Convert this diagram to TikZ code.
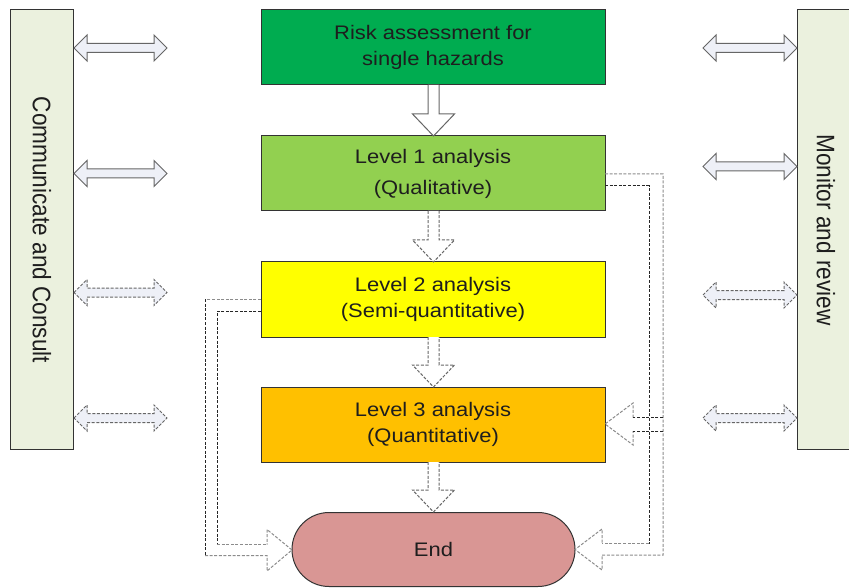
\documentclass[tikz,border=0pt]{standalone}
\usepackage{fontspec}
\setmainfont{Liberation Sans}[FakeStretch=1.12]
\newfontfamily\sidefont{Liberation Sans}
\definecolor{topgreen}{RGB}{0,172,80}
\definecolor{lgreen}{RGB}{146,208,80}
\definecolor{lyellow}{RGB}{255,255,0}
\definecolor{lorange}{RGB}{255,192,0}
\definecolor{endpink}{RGB}{217,150,148}
\definecolor{sidefill}{RGB}{235,241,222}
\definecolor{arrfill}{RGB}{238,240,247}
\definecolor{txt}{RGB}{30,30,30}
\newcommand{\hdblarr}[4]{%
  \draw[#4] (#1,#3) -- (#1+13,#3-13) -- (#1+13,#3-4.5) -- (#2-13,#3-4.5) -- (#2-13,#3-13) -- (#2,#3)
  -- (#2-13,#3+13) -- (#2-13,#3+4.5) -- (#1+13,#3+4.5) -- (#1+13,#3+13) -- cycle;}
\newcommand{\vdownarr}[4]{%
  \draw[#4] (#1-5.5,#2) -- (#1-5.5,#3-22) -- (#1-21,#3-22) -- (#1,#3) -- (#1+21,#3-22) -- (#1+5.5,#3-22) -- (#1+5.5,#2);}
\begin{document}
\begin{tikzpicture}[x=1pt,y=-1pt,
  font=\fontsize{19.6}{26}\selectfont,
  box/.style={draw=black!80, line width=1pt, minimum width=344pt, minimum height=75pt, inner sep=0pt, align=center, text=txt},
  sidebox/.style={draw=black!80, line width=1pt, fill=sidefill, inner sep=0pt},
  blk/.style={draw=black!60, line width=1pt, fill=arrfill},
  dblk/.style={blk, dash pattern=on 3pt off 1.6pt},
  down/.style={draw=black!60, line width=1pt, fill=white},
  ddown/.style={down, dash pattern=on 3pt off 1.6pt},
  eo/.style={draw=black!45, line width=1pt, dash pattern=on 3pt off 1.6pt},
  ei/.style={draw=black!85, line width=1pt, dash pattern=on 3pt off 1.6pt}]
\useasboundingbox (0,0) rectangle (849,588);
\clip (0,0) rectangle (849,588);
\fill[white] (0,0) rectangle (849,588);

% side boxes
\node[sidebox, minimum width=63pt, minimum height=439pt] (cc) at (41.5,229.5) {};
\node[sidebox, minimum width=70pt, minimum height=439pt] (mr) at (832,229.5) {};
\node[rotate=-90, text=txt] (cct) at (42,230) {\sidefont\fontsize{22.6}{26}\selectfont\scalebox{1}[1.12]{Communicate and Consult}};
\node[rotate=-90, text=txt] (mrt) at (826,230) {\sidefont\fontsize{22.6}{26}\selectfont\scalebox{1}[1.12]{Monitor and review}};

% main boxes
\node[box, fill=topgreen] (top) at (433,47.5) {Risk assessment for\\single hazards};
\node[box, fill=lgreen] (l1) at (433,173.5) {Level 1 analysis\\[5pt](Qualitative)};
\node[box, fill=lyellow] (l2) at (433,299.5) {Level 2 analysis\\(Semi-quantitative)};
\node[box, fill=lorange] (l3) at (433,424.5) {Level 3 analysis\\(Quantitative)};
\node[draw=black!80, line width=1pt, fill=endpink, minimum width=283pt, minimum height=74pt, rounded corners=37pt, inner sep=0pt, text=txt] (end) at (433.5,549.5) {End};

% down arrows
\vdownarr{433.5}{85}{136}{down}
\vdownarr{433.5}{211}{262}{ddown}
\vdownarr{433.5}{337}{387}{ddown}
\vdownarr{433.5}{462}{512}{ddown}

% left double arrows
\hdblarr{74}{167}{48}{blk}
\hdblarr{74}{167}{173.5}{blk}
\hdblarr{74}{167}{292.5}{dblk}
\hdblarr{74}{167}{418}{dblk}
% right double arrows
\hdblarr{703}{797}{48}{blk}
\hdblarr{703}{797}{166.5}{blk}
\hdblarr{703}{797}{295}{dblk}
\hdblarr{703}{797}{418}{dblk}

% left elbow (Level 2 -> End)
\draw[eo] (261,299) -- (205,299);
\draw[ei] (205,299) -- (205,555.5);
\draw[eo] (205,555.5) -- (267,555.5) -- (267,571) -- (292,550) -- (267,529.5) -- (267,544.5);
\draw[ei] (261,311) -- (217,311) -- (217,544.5);
\draw[eo] (217,544.5) -- (267,544.5);

% right elbow (Level 1 -> End and Level 3)
\draw[eo] (605,174) -- (663,174) -- (663,555) -- (602,555) -- (602,570) -- (575,549.5) -- (602,529) -- (602,543.5);
\draw[ei] (605,186) -- (649,186) -- (649,543.5);
\draw[eo] (649,543.5) -- (602,543.5);
\draw[eo] (633,417.5) -- (633,403) -- (605,424) -- (633,445) -- (633,431);
\draw[ei] (663,417.5) -- (633,417.5);
\draw[ei] (663,431) -- (633,431);
\end{tikzpicture}
\end{document}
